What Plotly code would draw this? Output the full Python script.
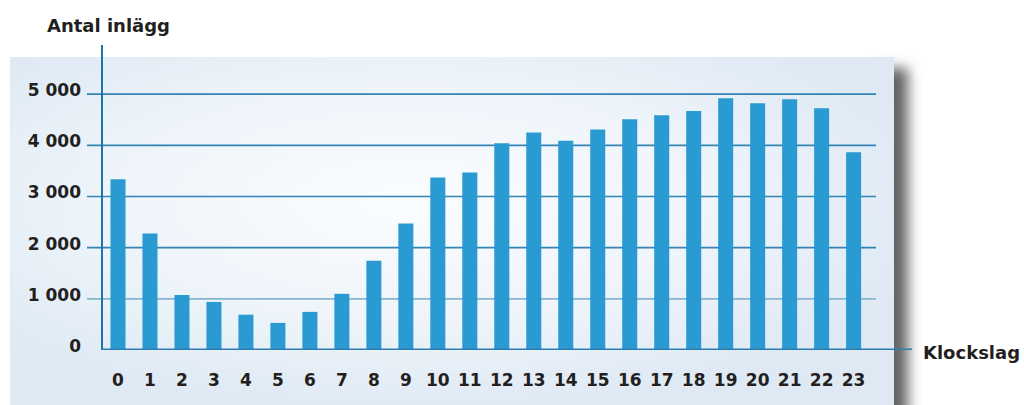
import base64
import plotly.graph_objects as go

hours = list(range(24))
hour_labels = [str(h) for h in hours]
posts = [3335, 2275, 1075, 940, 690, 530, 745, 1098, 1745, 2470, 3373, 3470,
         4040, 4250, 4090, 4310, 4510, 4590, 4670, 4920, 4824, 4902, 4725, 3863]
y_ticks = [0, 1000, 2000, 3000, 4000, 5000]
y_tick_labels = ["0", "1 000", "2 000", "3 000", "4 000", "5 000"]
y_title = "Antal inlägg"
x_title = "Klockslag"

W, H = 1024, 405
L, R, T, B = 102, 148, 43, 55
pw, ph = W - L - R, H - T - B

svg = f"""<svg xmlns='http://www.w3.org/2000/svg' width='{W}' height='{H}' viewBox='0 0 {W} {H}'>
<defs>
<radialGradient id='g' cx='0.45' cy='0.42' r='0.62'>
<stop offset='0' stop-color='#fbfdff'/>
<stop offset='0.55' stop-color='#eef4fa'/>
<stop offset='1' stop-color='#dee9f4'/>
</radialGradient>
<filter id='b' x='-50%' y='-20%' width='200%' height='140%'><feGaussianBlur stdDeviation='6.5'/></filter>
</defs>
<rect x='878' y='68' width='30' height='370' fill='#646464' filter='url(#b)'/>
<rect x='10' y='57' width='884' height='348' fill='url(#g)'/>
</svg>"""
src = "data:image/svg+xml;base64," + base64.b64encode(svg.encode()).decode()

font_tick = dict(family="DejaVu Sans", size=17, color="#231f20")

fig = go.Figure()
fig.add_trace(go.Bar(x=hours, y=posts, width=0.47,
                     marker=dict(color="#2a9ad2", line=dict(width=0)),
                     hoverinfo="skip"))

fig.add_layout_image(dict(source=src, xref="paper", yref="paper",
                          x=-L / pw, y=(ph + T) / ph, sizex=W / pw, sizey=H / ph,
                          xanchor="left", yanchor="top", sizing="stretch",
                          layer="below"))

# gridlines (incl. short stubs left of y axis)
for v in y_ticks[1:]:
    col = "#86b4cc" if v == 1000 else "#3384b4"
    fig.add_shape(type="line", xref="paper", yref="y", x0=-15 / pw, x1=1.0,
                  y0=v, y1=v, line=dict(color=col, width=1.6), layer="below")

# y axis line
fig.add_shape(type="line", xref="paper", yref="paper", x0=0, x1=0,
              y0=0, y1=(350 - 45) / ph, line=dict(color="#1f74a6", width=2))
# x axis line extended to the right
fig.add_shape(type="line", xref="paper", yref="y", x0=0, x1=(912 - L) / pw,
              y0=0, y1=0, line=dict(color="#2a7fae", width=3))

fig.add_annotation(text=f"<b>{y_title}</b>", xref="paper", yref="paper",
                   x=(45 - L) / pw, y=(350 - 26) / ph, xanchor="left", yanchor="middle",
                   showarrow=False, font=dict(family="DejaVu Sans", size=18, color="#231f20"))
fig.add_annotation(text=f"<b>{x_title}</b>", xref="paper", yref="paper",
                   x=(921 - L) / pw, y=(350 - 352) / ph, xanchor="left", yanchor="middle",
                   showarrow=False, font=dict(family="DejaVu Sans", size=18, color="#231f20"))

fig.update_layout(
    width=W, height=H,
    margin=dict(l=L, r=R, t=T, b=B, pad=0),
    paper_bgcolor="white", plot_bgcolor="rgba(0,0,0,0)",
    showlegend=False,
    xaxis=dict(range=[-0.5, 23.7], tickvals=hours,
               ticktext=[f"<b>{t}</b>" for t in hour_labels],
               tickfont=font_tick, showgrid=False, zeroline=False, showline=False,
               ticks="", ticklabelstandoff=18, fixedrange=True),
    yaxis=dict(range=[0, 6000], tickvals=y_ticks,
               ticktext=[f"<b>{t}</b>" for t in y_tick_labels],
               tickfont=font_tick, showgrid=False, zeroline=False, showline=False,
               ticks="", ticklabelstandoff=20, ticklabelshift=-4, fixedrange=True),
)

fig.write_html("out.html", config={"displayModeBar": False},
               post_script="document.body.style.margin='0px';document.body.style.overflow='hidden';")
